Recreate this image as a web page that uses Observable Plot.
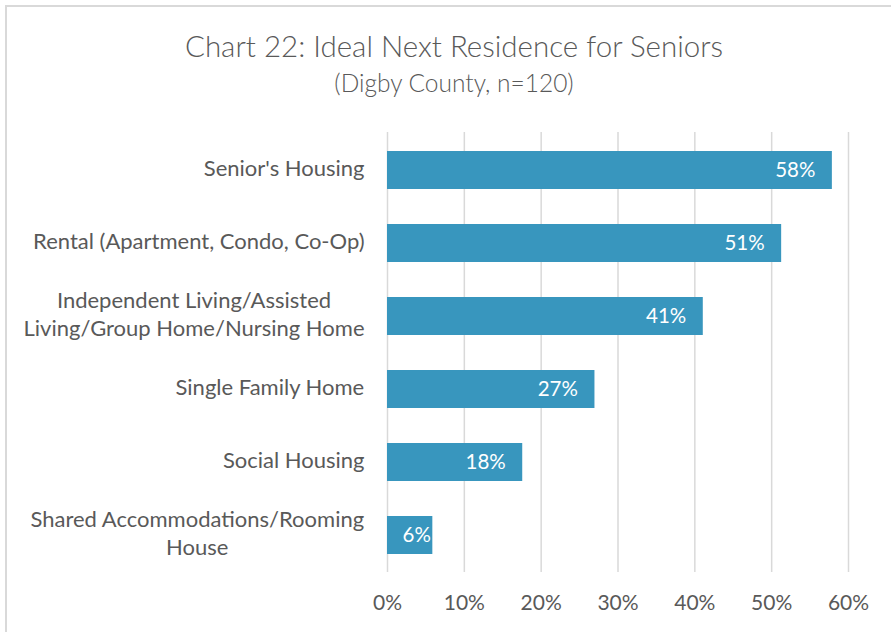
<!DOCTYPE html>
<html>
<head>
<meta charset="utf-8">
<script src="https://cdn.jsdelivr.net/npm/d3@7"></script>
<script src="https://cdn.jsdelivr.net/npm/@observablehq/plot@0.6"></script>
<style>
  html, body { margin: 0; padding: 0; background: #fff; }
  #wrap { position: relative; width: 891px; height: 632px; overflow: hidden; font-family: Lato, "Open Sans", sans-serif; }
  #frame { position: absolute; left: 5px; top: 5px; width: 900px; height: 700px; border-left: 2px solid #d9d9d9; border-top: 2px solid #d9d9d9; box-sizing: border-box; }
  #title { position: absolute; left: 0; width: 908px; top: 29px; text-align: center; font-size: 29.5px; font-weight: 300; color: #595959; line-height: 34px; }
  #subtitle { position: absolute; left: 0; width: 908px; top: 68px; text-align: center; font-size: 24.5px; font-weight: 300; color: #595959; line-height: 30px; }
  #chart { position: absolute; left: 0; top: 100px; }
</style>
</head>
<body>
<div id="wrap">
  <div id="frame"></div>
  <div id="title">Chart 22: Ideal Next Residence for Seniors</div>
  <div id="subtitle">(Digby County, n=120)</div>
  <div id="chart"></div>
</div>
<script>
const categories = [
  "Senior's Housing",
  "Rental (Apartment, Condo, Co-Op)",
  "Independent Living/Assisted\nLiving/Group Home/Nursing Home",
  "Single Family Home",
  "Social Housing",
  "Shared Accommodations/Rooming\nHouse"
];
const values = [0.579, 0.513, 0.411, 0.270, 0.176, 0.059];
const xTicks = [0, 0.1, 0.2, 0.3, 0.4, 0.5, 0.6];

const data = categories.map((c, i) => ({category: c, value: values[i]}));
const fmt = v => Math.round(v * 100) + "%";

const LABEL_SIZE = 22;
const ctx = document.createElement("canvas").getContext("2d");
ctx.font = LABEL_SIZE + "px Lato, 'Open Sans', sans-serif";
const gap = 23;

const labelMarks = data.map(d => {
  const w = Math.max(...d.category.split("\n").map(l => ctx.measureText(l).width));
  return Plot.text([d], {
    y: "category", text: "category", frameAnchor: "left",
    textAnchor: "middle", dx: -(gap + w / 2), dy: -3, lineHeight: 1.27,
    fill: "#595959", fontSize: LABEL_SIZE
  });
});

const wide = data.filter(d => d.value >= 0.1);
const narrow = data.filter(d => d.value < 0.1);

const chart = Plot.plot({
  width: 891,
  height: 532,
  marginLeft: 387,
  marginRight: 43,
  marginTop: 32,
  marginBottom: 60,
  style: {fontFamily: "Lato, 'Open Sans', sans-serif", fontSize: "21px", color: "#595959", background: "transparent", overflow: "visible"},
  x: {domain: [0, 0.6], ticks: xTicks, tickFormat: fmt, label: null},
  y: {domain: categories, paddingInner: 0.48, paddingOuter: 0.24, label: null, axis: null},
  marks: [
    Plot.gridX(xTicks, {stroke: "#d9d9d9", strokeOpacity: 1, strokeWidth: 1.5}),
    Plot.barX(data, {y: "category", x: "value", fill: "#3896be"}),
    Plot.text(wide, {y: "category", x: "value", text: d => fmt(d.value), textAnchor: "end", dx: -17, fill: "white", fontSize: 20.5}),
    Plot.text(narrow, {y: "category", x: "value", text: d => fmt(d.value), textAnchor: "end", dx: -2, fill: "white", fontSize: 20.5}),
    Plot.axisX(xTicks, {tickSize: 0, tickPadding: 23, tickFormat: fmt, fill: "#595959", fontSize: 21, label: null}),
    ...labelMarks
  ]
});
document.getElementById("chart").appendChild(chart);
</script>
</body>
</html>
